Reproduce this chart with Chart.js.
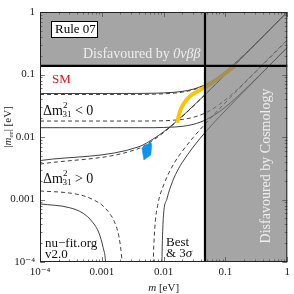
<!DOCTYPE html>
<html>
<head>
<meta charset="utf-8">
<script src="https://cdn.jsdelivr.net/npm/chart.js@4.4.1/dist/chart.umd.min.js"></script>
<style>
  html, body { margin: 0; padding: 0; background: #fff; }
  canvas { display: block; }
</style>
</head>
<body>
<canvas id="chart" width="294" height="294"></canvas>
<script>
// --- axes ---
const xTicks = [1e-4, 1e-3, 1e-2, 0.1, 1];
const yTicks = [1e-4, 1e-3, 1e-2, 0.1, 1];
const tickLabels = { 0.0001: '10\u207B\u2074', 0.001: '0.001', 0.01: '0.01', 0.1: '0.1', 1: '1' };

// limits (eV)
const bbLimit = 0.137;      // 0vbb bound on |m_ee|
const cosmoLimit = 0.0467;  // cosmology bound on m

// --- inverted ordering (Δm²31 < 0) ---
const mGrid = [1e-4, 4e-3, 7e-3, 0.01, 0.015, 0.02, 0.03, 0.05, 0.08, 0.12, 0.2, 0.35, 0.6, 1];
const ihMaxBest = [0.0479, 0.0481, 0.0485, 0.0491, 0.0504, 0.0522, 0.0568, 0.0695, 0.0935, 0.1294, 0.2058, 0.3534, 0.602, 1.001];
const ihMax3s   = [0.0496, 0.0498, 0.0502, 0.0507, 0.0520, 0.0537, 0.0582, 0.0707, 0.0943, 0.1300, 0.2062, 0.3536, 0.6021, 1.0012];
const ihMinBest = [0.0180, 0.0180, 0.0181, 0.0182, 0.0186, 0.0191, 0.0206, 0.0249, 0.0333, 0.0458, 0.0727, 0.1248, 0.2118, 0.353];
const ihMin3s   = [0.0141, 0.0141, 0.0141, 0.0142, 0.01445, 0.0148, 0.0159, 0.0192, 0.0255, 0.0351, 0.0557, 0.0955, 0.1625, 0.2705];

// --- normal ordering (Δm²31 > 0) ---
const nhMaxBest = [0.00368, 0.00658, 0.0091, 0.0118, 0.0165, 0.0212, 0.0310, 0.0507, 0.0804, 0.1203, 0.2002, 0.3501, 0.6001, 1.0];
const nhMax3s   = [0.0042, 0.0070, 0.0095, 0.0121, 0.0168, 0.0215, 0.0312, 0.0508, 0.0805, 0.1204, 0.2002, 0.3501, 0.6, 1.0];

const nhMinBestLeftM = [1e-4, 3e-4, 5e-4, 7e-4, 1e-3, 1.3e-3, 1.6e-3, 1.9e-3, 2.1e-3, 2.2e-3, 2.28e-3];
const nhMinBestLeft  = [0.00137, 0.00127, 0.00115, 0.00101, 0.00082, 0.00062, 0.00044, 0.00025, 0.00012, 0.00007, 0.00002];
const nhMinBestRightM = [0.0066, 0.0068, 0.0072, 0.008, 0.01, 0.015, 0.02, 0.03, 0.05, 0.08, 0.12, 0.2, 0.35, 0.6, 1];
const nhMinBestRight  = [0.00002, 0.0001, 0.00035, 0.0008, 0.0017, 0.0039, 0.0059, 0.0098, 0.0173, 0.0283, 0.0429, 0.0720, 0.1262, 0.2165, 0.358];

const nhMin3sLeftM = [1e-4, 3e-4, 5e-4, 7e-4, 9e-4, 1.05e-3, 1.15e-3, 1.22e-3];
const nhMin3sLeft  = [0.00085, 0.00074, 0.0006, 0.00044, 0.00029, 0.00017, 0.0001, 0.00003];
const nhMin3sRightM = [0.0092, 0.0095, 0.0099, 0.0113, 0.0139, 0.0174, 0.02, 0.03, 0.05, 0.08, 0.12, 0.2, 0.35, 0.6, 1];
const nhMin3sRight  = [0.00003, 0.00018, 0.00052, 0.00102, 0.00193, 0.0031, 0.0039, 0.0069, 0.0127, 0.0211, 0.0320, 0.0538, 0.0944, 0.162, 0.27];

// --- highlighted regions ---
const yellowM   = [0.0168, 0.018, 0.0209, 0.027, 0.0363, 0.047, 0.063, 0.091, 0.142];
const yellowMee = [0.0180, 0.0242, 0.0337, 0.0453, 0.0545, 0.0631, 0.0759, 0.0982, 0.137];
const blueM   = [0.00445, 0.0062, 0.00643, 0.0062, 0.00479, 0.00445];
const blueMee = [0.00667, 0.00832, 0.00745, 0.00515, 0.00429, 0.00667];

const pts = (xs, ys) => xs.map((x, i) => ({ x: x, y: ys[i] }));

function curve(xs, ys, dashed) {
  return {
    data: pts(xs, ys),
    showLine: true,
    pointRadius: 0,
    borderColor: '#2a2a2a',
    borderWidth: 0.9,
    borderDash: dashed ? [4, 3] : [],
    cubicInterpolationMode: 'monotone',
    fill: false,
    clip: 0
  };
}

const serif = '"Liberation Serif", "DejaVu Serif", serif';

// draw a row of text pieces, starting at x, vertically centred on y
function runs(ctx, parts, x, y) {
  let cx = x;
  parts.forEach(p => {
    ctx.font = p.f;
    ctx.fillText(p.t, cx, y + (p.dy || 0));
    cx += ctx.measureText(p.t).width + (p.gap || 0);
  });
}
function runsWidth(ctx, parts) {
  let w = 0;
  parts.forEach(p => { ctx.font = p.f; w += ctx.measureText(p.t).width + (p.gap || 0); });
  return w;
}

const decor = {
  id: 'decor',
  afterDatasetsDraw(chart) {
    const { ctx, chartArea: a, scales: { x, y } } = chart;
    const bx = x.getPixelForValue(cosmoLimit);
    const by = y.getPixelForValue(bbLimit);
    ctx.save();

    // excluded regions
    ctx.fillStyle = 'rgba(123,123,123,0.68)';
    ctx.fillRect(a.left, a.top, bx - a.left, by - a.top);
    ctx.fillRect(bx, a.top, a.right - bx, a.bottom - a.top);

    ctx.textBaseline = 'middle';
    ctx.fillStyle = '#eeeeee';
    runs(ctx, [
      { t: 'Disfavoured by ', f: '14px ' + serif },
      { t: '0\u03BD\u03B2\u03B2', f: 'italic 14px ' + serif }
    ], a.left + 43, a.top + 42);

    ctx.save();
    ctx.translate(a.left + 226, a.top + 154);
    ctx.rotate(-Math.PI / 2);
    ctx.textAlign = 'center';
    ctx.font = '14px ' + serif;
    ctx.fillText('Disfavoured by Cosmology', 0, 0);
    ctx.restore();

    // boundaries
    ctx.strokeStyle = '#000';
    ctx.lineWidth = 2.2;
    ctx.beginPath();
    ctx.moveTo(a.left, by); ctx.lineTo(a.right, by);
    ctx.moveTo(bx, a.top); ctx.lineTo(bx, a.bottom);
    ctx.stroke();

    // inward ticks
    ctx.strokeStyle = '#555';
    ctx.lineWidth = 0.8;
    ctx.beginPath();
    for (let e = -4; e <= 0; e++) {
      for (let k = 1; k <= 9; k++) {
        const v = k * Math.pow(10, e);
        if (v > 1.0001) break;
        const len = k === 1 ? 5 : 2.5;
        const px = Math.round(x.getPixelForValue(v)) + 0.5;
        const py = Math.round(y.getPixelForValue(v)) + 0.5;
        ctx.moveTo(px, a.bottom); ctx.lineTo(px, a.bottom - len);
        ctx.moveTo(px, a.top); ctx.lineTo(px, a.top + len);
        ctx.moveTo(a.left, py); ctx.lineTo(a.left + len, py);
        ctx.moveTo(a.right, py); ctx.lineTo(a.right - len, py);
      }
    }
    ctx.stroke();

    // frame
    ctx.strokeStyle = '#222';
    ctx.lineWidth = 1;
    ctx.strokeRect(a.left + 0.5, a.top + 0.5, a.right - a.left - 1, a.bottom - a.top - 1);

    // Rule box
    ctx.fillStyle = '#fff';
    ctx.fillRect(a.left + 11.5, a.top + 9.5, 46, 16);
    ctx.strokeStyle = '#000';
    ctx.strokeRect(a.left + 11.5, a.top + 9.5, 46, 16);
    ctx.fillStyle = '#000';
    ctx.font = '13px ' + serif;
    ctx.fillText('Rule 07', a.left + 15, a.top + 18);

    // labels inside the plot
    ctx.fillStyle = '#e3101a';
    ctx.fillText('SM', a.left + 12, a.top + 68);

    ctx.fillStyle = '#111';
    const dm = sign => [
      { t: '\u0394m', f: '14px ' + serif },
      { t: '2', f: '9px ' + serif, dy: -5, gap: -5 },
      { t: '31', f: '9px ' + serif, dy: 4 },
      { t: ' ' + sign + ' 0', f: '14px ' + serif }
    ];
    runs(ctx, dm('<'), a.left + 3, a.top + 99);
    runs(ctx, dm('>'), a.left + 3, a.top + 167);

    ctx.font = '13px ' + serif;
    ctx.fillText('nu\u2212fit.org', a.left + 5, a.top + 232);
    ctx.fillText('v2.0', a.left + 5, a.top + 243);
    ctx.fillText('Best', a.left + 126, a.top + 231);
    runs(ctx, [
      { t: '& 3', f: '13px ' + serif },
      { t: '\u03C3', f: 'italic 13px ' + serif }
    ], a.left + 126, a.top + 242);

    // axis titles
    ctx.fillStyle = '#222';
    const xt = [
      { t: 'm', f: 'italic 11px ' + serif },
      { t: ' [eV]', f: '11px ' + serif }
    ];
    runs(ctx, xt, (a.left + a.right) / 2 - runsWidth(ctx, xt) / 2, 288);

    const yt = [
      { t: '|', f: '11px ' + serif },
      { t: 'm', f: 'italic 11px ' + serif },
      { t: 'ee', f: 'italic 7px ' + serif, dy: 3 },
      { t: '| [eV]', f: '11px ' + serif }
    ];
    ctx.save();
    ctx.translate(8, a.top + 115);
    ctx.rotate(-Math.PI / 2);
    runs(ctx, yt, -runsWidth(ctx, yt) / 2, 0);
    ctx.restore();

    ctx.restore();
  }
};

const yellowSet = {
  data: pts(yellowM, yellowMee),
  showLine: true, pointRadius: 0,
  borderColor: '#ffc400', borderWidth: 4, borderCapStyle: 'round',
  cubicInterpolationMode: 'monotone', fill: false, clip: 0
};
const blueSet = {
  data: pts(blueM, blueMee),
  showLine: true, pointRadius: 0,
  borderColor: '#0b93f2', borderWidth: 0.5, backgroundColor: '#0b93f2',
  tension: 0, fill: 'shape', clip: 0
};

const logAxis = (ticksList, pad) => ({
  type: 'logarithmic',
  min: 1e-4, max: 1,
  afterBuildTicks: s => { s.ticks = ticksList.map(v => ({ value: v })); },
  ticks: {
    autoSkip: false, maxRotation: 0, padding: pad,
    color: '#222',
    font: { family: serif, size: 11 },
    callback: v => tickLabels[v] || ''
  },
  grid: { display: false, drawTicks: false },
  border: { display: false }
});

const xAxis = logAxis(xTicks, 4);
xAxis.afterFit = s => { s.height = 32; };
const yAxis = logAxis(yTicks, 5);
yAxis.afterFit = s => { s.width = 40; };

new Chart(document.getElementById('chart'), {
  type: 'scatter',
  data: {
    datasets: [
      yellowSet,
      blueSet,
      curve(mGrid, ihMax3s, false),
      curve(mGrid, ihMaxBest, true),
      curve(mGrid, ihMin3s, false),
      curve(mGrid, ihMinBest, true),
      curve(mGrid, nhMax3s, false),
      curve(mGrid, nhMaxBest, true),
      curve(nhMinBestLeftM, nhMinBestLeft, true),
      curve(nhMinBestRightM, nhMinBestRight, true),
      curve(nhMin3sLeftM, nhMin3sLeft, false),
      curve(nhMin3sRightM, nhMin3sRight, false)
    ]
  },
  options: {
    responsive: false,
    animation: false,
    layout: { padding: { left: 0, top: 12, right: 4, bottom: 0 } },
    plugins: { legend: { display: false }, tooltip: { enabled: false } },
    scales: { x: xAxis, y: yAxis }
  },
  plugins: [decor]
});
</script>
</body>
</html>
